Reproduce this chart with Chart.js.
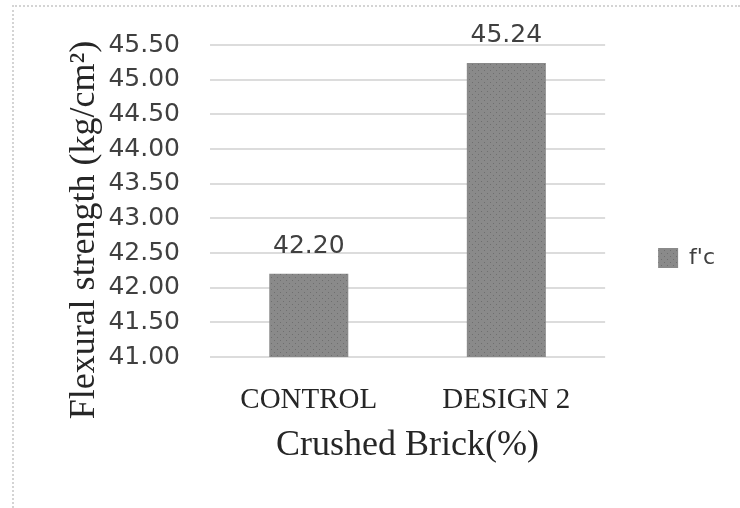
<!DOCTYPE html>
<html>
<head>
<meta charset="utf-8">
<script src="https://cdn.jsdelivr.net/npm/chart.js@4.4.1/dist/chart.umd.min.js"></script>
<style>
  html, body { margin: 0; padding: 0; background: #fff; }
  #wrap { position: relative; width: 740px; height: 508px; }
  #frame { position: absolute; left: 12px; top: 5px; right: 0; bottom: 0;
           border-top: 2px dotted #d4d4d4; border-left: 2px dotted #d4d4d4; }
  canvas { position: absolute; left: 0; top: 0; }
</style>
</head>
<body>
<div id="wrap">
  <div id="frame"></div>
  <canvas id="chart" width="740" height="508"></canvas>
</div>
<script>
const categories = ["CONTROL", "DESIGN 2"];
const values = [42.20, 45.24];
const seriesName = "f'c";
const yTicks = [41.0, 41.5, 42.0, 42.5, 43.0, 43.5, 44.0, 44.5, 45.0, 45.5];
const xTitle = "Crushed Brick(%)";
const yTitle = "Flexural strength (kg/cm\u00B2)";

const sansFont = '"DejaVu Sans", sans-serif';
const serifFont = '"Liberation Serif", "Times New Roman", serif';

// dotted grey fill like the office chart texture
function makePattern() {
  const c = document.createElement("canvas");
  c.width = 6;
  c.height = 6;
  const g = c.getContext("2d");
  g.fillStyle = "#8a8a8a";
  g.fillRect(0, 0, 6, 6);
  g.fillStyle = "#6f6f6f";
  g.fillRect(1, 1, 1, 1);
  g.fillRect(4, 4, 1, 1);
  return g.createPattern(c, "repeat");
}

// rotated y axis title, placed where the original sits
const yTitlePlugin = {
  id: "yTitle",
  afterDraw(chart) {
    const ctx = chart.ctx;
    ctx.save();
    ctx.translate(85, 230);
    ctx.rotate(-Math.PI / 2);
    ctx.font = "36px " + serifFont;
    ctx.fillStyle = "#262626";
    ctx.textAlign = "center";
    ctx.textBaseline = "middle";
    ctx.fillText(yTitle, 0, 0);
    ctx.restore();
  }
};

// value labels above each bar
const valueLabels = {
  id: "valueLabels",
  afterDatasetsDraw(chart) {
    const ctx = chart.ctx;
    const meta = chart.getDatasetMeta(0);
    ctx.save();
    ctx.font = "25px " + sansFont;
    ctx.fillStyle = "#404040";
    ctx.textAlign = "center";
    ctx.textBaseline = "alphabetic";
    meta.data.forEach((bar, i) => {
      ctx.fillText(values[i].toFixed(2), bar.x, bar.y - 21);
    });
    ctx.restore();
  }
};

const fill = makePattern();

new Chart(document.getElementById("chart"), {
  type: "bar",
  data: {
    labels: categories,
    datasets: [{
      label: seriesName,
      data: values,
      backgroundColor: fill,
      borderWidth: 0,
      barPercentage: 0.4,
      categoryPercentage: 1.0
    }]
  },
  options: {
    responsive: false,
    animation: false,
    layout: { padding: { top: 43, right: 15, bottom: 35, left: 0 } },
    plugins: {
      tooltip: { enabled: false },
      legend: {
        position: "right",
        align: "center",
        labels: {
          boxWidth: 20,
          boxHeight: 20,
          padding: 53,
          color: "#404040",
          font: { family: sansFont, size: 22 }
        }
      }
    },
    scales: {
      x: {
        grid: { display: false, drawTicks: false },
        border: { display: false },
        ticks: {
          padding: 26,
          color: "#262626",
          font: { family: serifFont, size: 29 }
        },
        title: {
          display: true,
          text: xTitle,
          color: "#262626",
          padding: { top: 0, bottom: 6 },
          font: { family: serifFont, size: 36 }
        },
        afterFit(scale) { scale.height = 508 - 35 - 357; }
      },
      y: {
        min: yTicks[0],
        max: yTicks[yTicks.length - 1],
        afterBuildTicks(scale) { scale.ticks = yTicks.map(v => ({ value: v })); },
        grid: { color: "#dcdcdc", lineWidth: 2, drawTicks: false },
        border: { display: false },
        ticks: {
          padding: 30,
          color: "#404040",
          font: { family: sansFont, size: 25 },
          callback: v => Number(v).toFixed(2)
        },
        afterFit(scale) { scale.width = 210; }
      }
    }
  },
  plugins: [valueLabels, yTitlePlugin]
});
</script>
</body>
</html>
